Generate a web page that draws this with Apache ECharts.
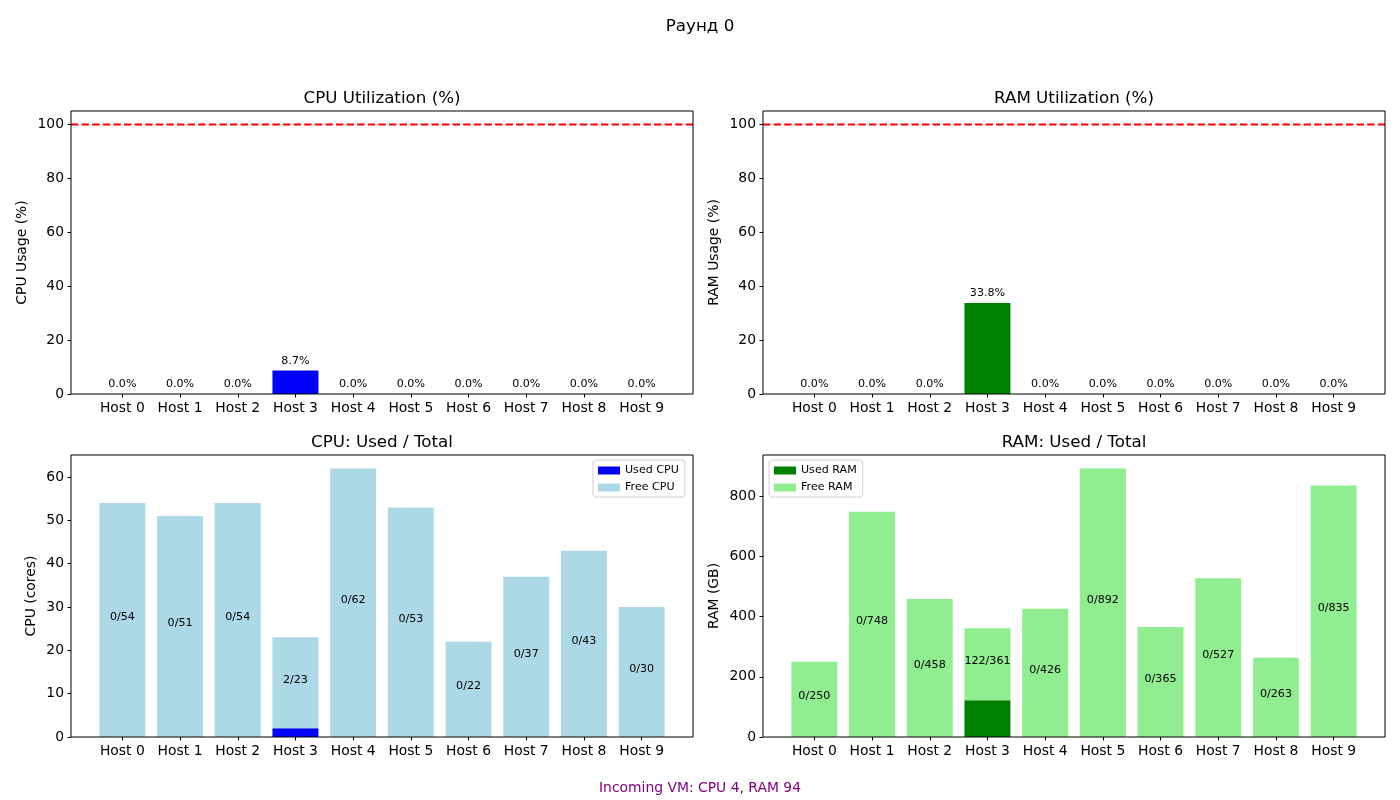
<!DOCTYPE html>
<html><head><meta charset="utf-8">
<script src="https://cdn.jsdelivr.net/npm/echarts@6/dist/echarts.min.js"></script>
<style>html,body{margin:0;padding:0;background:#fff}#c{width:1400px;height:800px}</style>
</head><body><div id="c"></div>
<script>
const hosts = ['Host 0','Host 1','Host 2','Host 3','Host 4','Host 5','Host 6','Host 7','Host 8','Host 9'];
const cpuTotal = [54, 51, 54, 23, 62, 53, 22, 37, 43, 30];
const cpuUsed  = [0, 0, 0, 2, 0, 0, 0, 0, 0, 0];
const ramTotal = [250, 748, 458, 361, 426, 892, 365, 527, 263, 835];
const ramUsed  = [0, 0, 0, 122, 0, 0, 0, 0, 0, 0];
const threshold = 100;
const suptitle = 'Раунд 0';
const footer = 'Incoming VM: CPU 4, RAM 94';

const cpuPct = cpuUsed.map((u,i)=> u / cpuTotal[i] * 100);
const ramPct = ramUsed.map((u,i)=> u / ramTotal[i] * 100);
const cpuFree = cpuTotal.map((t,i)=> t - cpuUsed[i]);
const ramFree = ramTotal.map((t,i)=> t - ramUsed[i]);

const FONT = 'DejaVu Sans';
const panels = [
  {left:71, top:111, width:622, height:283, max:105, interval:20, name:'CPU Usage (%)', nameGap:42, title:'CPU Utilization (%)'},
  {left:763, top:111, width:622, height:283, max:105, interval:20, name:'RAM Usage (%)', nameGap:42, title:'RAM Utilization (%)'},
  {left:71, top:455, width:622, height:282, max:65.1, interval:10, name:'CPU (cores)', nameGap:33, title:'CPU: Used / Total'},
  {left:763, top:455, width:622, height:282, max:936.6, interval:200, name:'RAM (GB)', nameGap:42, title:'RAM: Used / Total'}
];
const span = 10.78, off = 0.39;
const grid = [], xAxis = [], yAxis = [], graphic = [];
panels.forEach((p, k) => {
  grid.push({left:p.left, top:p.top, width:p.width, height:p.height, containLabel:false});
  const nl = p.left + off / span * p.width, nw = 10 / span * p.width;
  grid.push({left:nl, top:p.top, width:nw, height:p.height, containLabel:false});
  xAxis.push({type:'value', gridIndex:2*k, min:0, max:1, show:false});
  xAxis.push({type:'category', gridIndex:2*k+1, data:hosts, boundaryGap:true,
    axisLine:{show:false}, axisTick:{show:true, alignWithLabel:true, length:3.5, lineStyle:{color:'#000', width:1}},
    axisLabel:{color:'#000', fontSize:13.9, fontFamily:FONT, margin:7, interval:0}, splitLine:{show:false}});
  yAxis.push({type:'value', gridIndex:2*k, min:0, max:p.max, interval:p.interval,
    axisLine:{show:false}, axisTick:{show:true, length:3.5, lineStyle:{color:'#000', width:1}},
    axisLabel:{color:'#000', fontSize:13.9, fontFamily:FONT, margin:7, showMaxLabel:false, formatter: v => (Math.abs(v % p.interval) < 1e-9 ? String(v) : '')},
    splitLine:{show:false}, name:p.name, nameLocation:'middle', nameGap:p.nameGap, nameRotate:90,
    nameTextStyle:{color:'#000', fontSize:13.9, fontFamily:FONT}});
  yAxis.push({type:'value', gridIndex:2*k+1, min:0, max:p.max, show:false});
  graphic.push({type:'rect', z:100, shape:{x:p.left, y:p.top, width:p.width, height:p.height}, style:{fill:'none', stroke:'#000', lineWidth:1}});
  graphic.push({type:'text', z:100, x:p.left + p.width/2, y:p.top - 12, style:{text:p.title, fill:'#000', font:'16.7px "DejaVu Sans"', textAlign:'center', textVerticalAlign:'middle'}});
});
graphic.push({type:'text', x:700, y:27, style:{text:suptitle, fill:'#000', font:'16.7px "DejaVu Sans"', textAlign:'center', textVerticalAlign:'middle'}});
graphic.push({type:'text', x:700, y:788, style:{text:footer, fill:'#800080', font:'13.9px "DejaVu Sans"', textAlign:'center', textVerticalAlign:'middle'}});

const BW = 46;
const pctLabel = {show:true, position:'top', distance:4, color:'#000', fontSize:11.1, fontFamily:FONT, formatter: p => p.value.toFixed(1) + '%'};
const thrLine = (k) => ({type:'line', xAxisIndex:2*k, yAxisIndex:2*k, data:[[0,threshold],[1,threshold]], symbol:'none', silent:true,
  lineStyle:{color:'#ff0000', width:2, type:[7.4,3.2]}, z:5});
const series = [
  {type:'bar', name:'CPU %', xAxisIndex:1, yAxisIndex:1, data:cpuPct, barWidth:BW, itemStyle:{color:'#0000ff'}, label:pctLabel},
  thrLine(0),
  {type:'bar', name:'RAM %', xAxisIndex:3, yAxisIndex:3, data:ramPct, barWidth:BW, itemStyle:{color:'#008000'}, label:pctLabel},
  thrLine(1),
  {type:'bar', name:'Used CPU', xAxisIndex:5, yAxisIndex:5, data:cpuUsed, stack:'cpu', barWidth:BW, itemStyle:{color:'#0000ff'}},
  {type:'bar', name:'Free CPU', xAxisIndex:5, yAxisIndex:5, data:cpuFree, stack:'cpu', barWidth:BW, itemStyle:{color:'#add8e6'},
    label:{show:true, position:'inside', offset:[0,-3], color:'#000', fontSize:11.1, fontFamily:FONT, formatter: p => cpuUsed[p.dataIndex] + '/' + cpuTotal[p.dataIndex]}},
  {type:'bar', name:'Used RAM', xAxisIndex:7, yAxisIndex:7, data:ramUsed, stack:'ram', barWidth:BW, itemStyle:{color:'#008000'}},
  {type:'bar', name:'Free RAM', xAxisIndex:7, yAxisIndex:7, data:ramFree, stack:'ram', barWidth:BW, itemStyle:{color:'#90ee90'},
    label:{show:true, position:'inside', offset:[0,-3], color:'#000', fontSize:11.1, fontFamily:FONT, formatter: p => ramUsed[p.dataIndex] + '/' + ramTotal[p.dataIndex]}}
];
const legBase = {orient:'vertical', icon:'rect', itemWidth:22, itemHeight:8, itemGap:6, selectedMode:false,
  textStyle:{fontSize:11.1, fontFamily:FONT, color:'#000'}, borderColor:'#d0d0d0', borderWidth:1, borderRadius:3,
  padding:[5,6,4,5], backgroundColor:'rgba(255,255,255,0.8)'};
const legend = [
  Object.assign({}, legBase, {data:['Used CPU','Free CPU'], left:593, top:460}),
  Object.assign({}, legBase, {data:['Used RAM','Free RAM'], left:769, top:460})
];
const chart = echarts.init(document.getElementById('c'), null, {renderer:'canvas'});
chart.setOption({animation:false, backgroundColor:'#fff', textStyle:{fontFamily:FONT}, grid, xAxis, yAxis, series, legend, graphic});
</script></body></html>
